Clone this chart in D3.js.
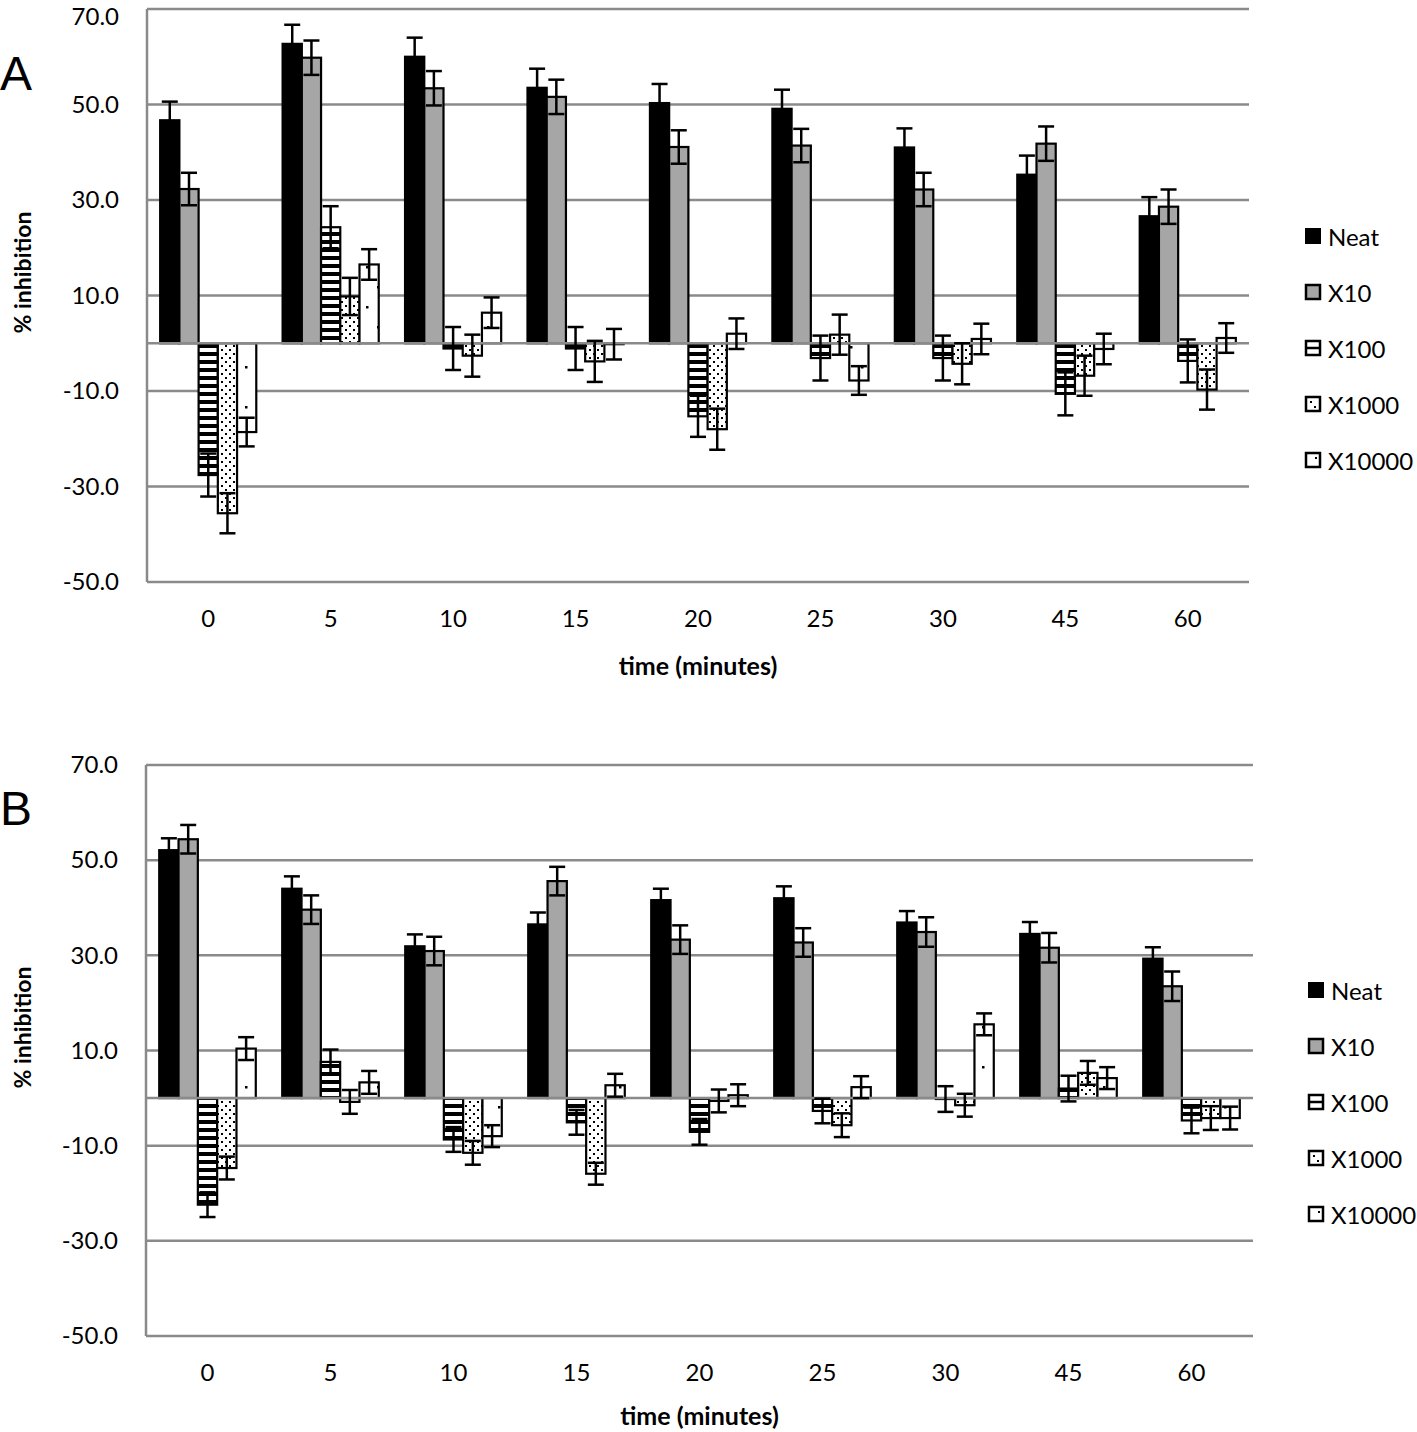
<!DOCTYPE html>
<html>
<head>
<meta charset="utf-8">
<script src="https://cdn.jsdelivr.net/npm/d3@7/dist/d3.min.js"></script>
<style>
  html, body { margin: 0; padding: 0; background: #fff; }
  svg { display: block; }
  text { font-family: Lato, "Open Sans", "Liberation Sans", sans-serif; fill: #000; }
</style>
</head>
<body>
<svg id="chart" width="1417" height="1432"></svg>
<script>
// ---------- data ----------
const categories = ["0", "5", "10", "15", "20", "25", "30", "45", "60"];
const seriesNames = ["Neat", "X10", "X100", "X1000", "X10000"];
const yTicks = [-50, -30, -10, 10, 30, 50, 70];

// Panel A
const A_neat   = [46.7, 62.7, 60.0, 53.5, 50.3, 49.1, 41.0, 35.3, 26.6];
const A_x10    = [32.3, 59.8, 53.4, 51.6, 41.1, 41.4, 32.2, 41.8, 28.6];
const A_x100   = [-27.6, 24.3, -1.1, -1.1, -15.3, -3.1, -3.1, -10.6, -3.7];
const A_x1000  = [-35.6, 9.8, -2.6, -3.8, -18.0, 1.8, -4.3, -6.8, -9.7];
const A_x10000 = [-18.6, 16.5, 6.4, -0.2, 2.0, -7.8, 0.9, -1.2, 1.1];
const A_err_neat   = [3.9, 4.0, 4.0, 4.0, 4.0, 4.0, 4.0, 4.0, 4.0];
const A_err_x10    = [3.4, 3.6, 3.6, 3.6, 3.5, 3.5, 3.5, 3.6, 3.6];
const A_err_x100   = [4.5, 4.4, 4.5, 4.5, 4.3, 4.7, 4.7, 4.5, 4.5];
const A_err_x1000  = [4.2, 3.9, 4.4, 4.3, 4.3, 4.2, 4.3, 4.2, 4.2];
const A_err_x10000 = [3.0, 3.2, 3.2, 3.2, 3.2, 3.0, 3.2, 3.2, 3.1];

// Panel B
const B_neat   = [52.1, 44.0, 31.9, 36.5, 41.6, 42.0, 36.9, 34.5, 29.3];
const B_x10    = [54.4, 39.6, 30.9, 45.6, 33.3, 32.7, 34.9, 31.6, 23.5];
const B_x100   = [-22.4, 7.6, -8.7, -5.1, -7.1, -2.7, -0.2, 2.0, -4.7];
const B_x1000  = [-14.7, -0.8, -11.5, -15.9, -0.6, -5.7, -1.5, 5.3, -4.2];
const B_x10000 = [10.4, 3.3, -8.0, 2.7, 0.6, 2.3, 15.5, 4.2, -4.2];
const B_err_neat   = [2.5, 2.6, 2.5, 2.5, 2.4, 2.5, 2.4, 2.5, 2.4];
const B_err_x10    = [3.0, 3.0, 3.0, 3.0, 3.0, 3.0, 3.1, 3.1, 3.1];
const B_err_x100   = [2.6, 2.6, 2.6, 2.6, 2.7, 2.6, 2.7, 2.7, 2.7];
const B_err_x1000  = [2.4, 2.5, 2.5, 2.3, 2.4, 2.5, 2.4, 2.5, 2.5];
const B_err_x10000 = [2.4, 2.4, 2.3, 2.4, 2.3, 2.3, 2.3, 2.3, 2.4];

// ---------- drawing ----------
const svg = d3.select("#chart");
const defs = svg.append("defs");

// stripes (X100)
const pStripe = defs.append("pattern").attr("id", "pat-x100")
  .attr("patternUnits", "userSpaceOnUse").attr("width", 8).attr("height", 8);
pStripe.append("rect").attr("width", 8).attr("height", 8).attr("fill", "#fff");
pStripe.append("rect").attr("y", 0).attr("width", 8).attr("height", 4).attr("fill", "#000");

// dense dots (X1000)
const pDense = defs.append("pattern").attr("id", "pat-x1000")
  .attr("patternUnits", "userSpaceOnUse").attr("width", 8).attr("height", 8);
pDense.append("rect").attr("width", 8).attr("height", 8).attr("fill", "#fff");
pDense.append("rect").attr("x", 1).attr("y", 1).attr("width", 2).attr("height", 2).attr("fill", "#000");
pDense.append("rect").attr("x", 5).attr("y", 5).attr("width", 2).attr("height", 2).attr("fill", "#000");

// sparse dots (X10000)
const pSparse = defs.append("pattern").attr("id", "pat-x10000")
  .attr("patternUnits", "userSpaceOnUse").attr("width", 22).attr("height", 40);
pSparse.append("rect").attr("width", 22).attr("height", 40).attr("fill", "#fff");
pSparse.append("rect").attr("x", 3).attr("y", 6).attr("width", 2.5).attr("height", 2.5).attr("fill", "#000");
pSparse.append("rect").attr("x", 14).attr("y", 26).attr("width", 2.5).attr("height", 2.5).attr("fill", "#000");

const fills = {
  "Neat": "#000",
  "X10": "#a6a6a6",
  "X100": "url(#pat-x100)",
  "X1000": "url(#pat-x1000)",
  "X10000": "url(#pat-x10000)"
};
const gridColor = "#8a8a8a";
const fmtTick = d => d3.format(".1f")(d).replace("\u2212", "-");

function drawPanel(cfg) {
  const g = svg.append("g");
  const y = d3.scaleLinear().domain([-50, 70]).range([cfg.bottom, cfg.top]);
  const x0 = d3.scaleBand().domain(categories).range([cfg.left, cfg.right])
    .paddingInner(0.215).paddingOuter(0.1075);
  const x1 = d3.scaleBand().domain(seriesNames).range([0, x0.bandwidth()]);

  // gridlines
  g.append("g").selectAll("line").data(yTicks).join("line")
    .attr("x1", cfg.left).attr("x2", cfg.right)
    .attr("y1", d => y(d)).attr("y2", d => y(d))
    .attr("stroke", gridColor).attr("stroke-width", 2.5);
  // left axis line
  g.append("line").attr("x1", cfg.left).attr("x2", cfg.left)
    .attr("y1", y(70)).attr("y2", y(-50))
    .attr("stroke", gridColor).attr("stroke-width", 2.5);

  // y tick labels via axis
  const yAxis = d3.axisLeft(y).tickValues(yTicks).tickFormat(fmtTick)
    .tickSize(0).tickPadding(28);
  const ya = g.append("g").attr("transform", `translate(${cfg.left},0)`).call(yAxis);
  ya.select(".domain").remove();
  ya.selectAll("text").style("font-family", "Lato, sans-serif").style("font-size", "24px").attr("fill", "#000");
  // keep the top label inside the picture
  ya.selectAll(".tick").filter(d => y(d) < 17).select("text").attr("y", d => 17 - y(d));

  // series
  const rows = [];
  seriesNames.forEach((s, si) => {
    cfg.values[si].forEach((v, ci) => rows.push({s, c: categories[ci], v, e: cfg.errors[si][ci]}));
  });

  // bars
  g.append("g").selectAll("rect").data(rows).join("rect")
    .attr("x", d => x0(d.c) + x1(d.s))
    .attr("width", x1.bandwidth())
    .attr("y", d => y(Math.max(0, d.v)))
    .attr("height", d => Math.abs(y(d.v) - y(0)))
    .attr("fill", d => fills[d.s])
    .attr("stroke", "#000").attr("stroke-width", 2.2);

  // zero line (category axis)
  g.append("line").attr("x1", cfg.left).attr("x2", cfg.right)
    .attr("y1", y(0)).attr("y2", y(0))
    .attr("stroke", gridColor).attr("stroke-width", 2.5);

  // error bars
  const eg = g.append("g").attr("stroke", "#000").attr("stroke-width", 2.5);
  rows.forEach(d => {
    const cx = x0(d.c) + x1(d.s) + x1.bandwidth() / 2;
    const hw = 8;
    eg.append("line").attr("x1", cx).attr("x2", cx).attr("y1", y(d.v + d.e)).attr("y2", y(d.v - d.e));
    eg.append("line").attr("x1", cx - hw).attr("x2", cx + hw).attr("y1", y(d.v + d.e)).attr("y2", y(d.v + d.e));
    eg.append("line").attr("x1", cx - hw).attr("x2", cx + hw).attr("y1", y(d.v - d.e)).attr("y2", y(d.v - d.e));
  });

  // x axis labels
  const xAxis = d3.axisBottom(x0).tickSize(0).tickPadding(0);
  const xa = g.append("g").attr("transform", `translate(0,${cfg.bottom + 37})`).call(xAxis);
  xa.select(".domain").remove();
  xa.selectAll("text").attr("dy", "0.35em").attr("y", 0)
    .style("font-family", "Lato, sans-serif").style("font-size", "24px").attr("fill", "#000");

  // axis titles
  g.append("text").attr("x", (cfg.left + cfg.right) / 2).attr("y", cfg.bottom + cfg.titleOffset)
    .attr("text-anchor", "middle").attr("dominant-baseline", "central")
    .style("font-size", "25px").style("font-weight", "bold").text("time (minutes)");
  const midY = (cfg.top + cfg.bottom) / 2 - 23;
  g.append("text").attr("transform", `translate(22,${midY}) rotate(-90)`)
    .attr("text-anchor", "middle").attr("dominant-baseline", "central")
    .style("font-size", "23px").style("font-weight", "bold").text("% inhibition");

  // panel letter
  g.append("text").attr("x", 0).attr("y", cfg.letterY)
    .style("font-size", "48px").style("font-family", "'Liberation Sans', Arial, sans-serif").text(cfg.letter);

  // legend
  const lg = g.append("g");
  seriesNames.forEach((s, i) => {
    const cy = cfg.legendTop + i * 56;
    const mx = cfg.legendX;
    const box = lg.append("g");
    if (s === "Neat") {
      box.append("rect").attr("x", mx).attr("y", cy - 8).attr("width", 16).attr("height", 16).attr("fill", "#000");
    } else {
      box.append("rect").attr("x", mx + 1).attr("y", cy - 7).attr("width", 14).attr("height", 14)
        .attr("fill", s === "X10" ? "#a6a6a6" : "#fff").attr("stroke", "#000").attr("stroke-width", 2.5);
      if (s === "X100") {
        box.append("line").attr("x1", mx + 1).attr("x2", mx + 15).attr("y1", cy).attr("y2", cy)
          .attr("stroke", "#000").attr("stroke-width", 2.5);
      } else if (s === "X1000") {
        box.append("rect").attr("x", mx + 5).attr("y", cy - 3).attr("width", 2).attr("height", 2).attr("fill", "#000");
        box.append("rect").attr("x", mx + 9).attr("y", cy + 2).attr("width", 2).attr("height", 2).attr("fill", "#000");
      } else if (s === "X10000") {
        box.append("rect").attr("x", mx + 10).attr("y", cy - 3).attr("width", 2).attr("height", 2).attr("fill", "#000");
      }
    }
    lg.append("text").attr("x", mx + 23).attr("y", cy).attr("dominant-baseline", "central")
      .style("font-size", "24px").text(s);
  });
}

drawPanel({
  left: 147, right: 1249, top: 9, bottom: 582, titleOffset: 83,
  letter: "A", letterY: 90, legendX: 1305, legendTop: 236,
  values: [A_neat, A_x10, A_x100, A_x1000, A_x10000],
  errors: [A_err_neat, A_err_x10, A_err_x100, A_err_x1000, A_err_x10000]
});
drawPanel({
  left: 146, right: 1253, top: 765, bottom: 1336, titleOffset: 79,
  letter: "B", letterY: 825, legendX: 1308, legendTop: 990,
  values: [B_neat, B_x10, B_x100, B_x1000, B_x10000],
  errors: [B_err_neat, B_err_x10, B_err_x100, B_err_x1000, B_err_x10000]
});
</script>
</body>
</html>
